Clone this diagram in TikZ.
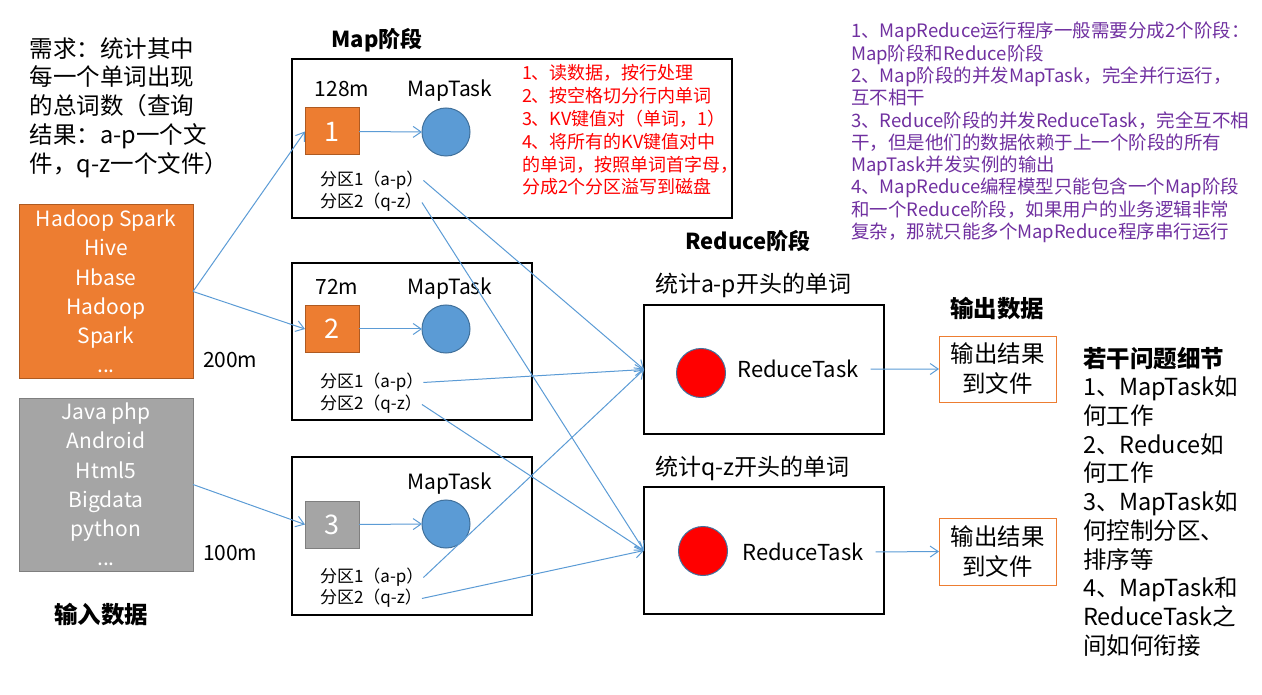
\documentclass[tikz,border=0pt]{standalone}
\usepackage{fontspec}
\setmainfont{Noto Sans CJK SC}
\usetikzlibrary{arrows.meta}
\definecolor{obg}{HTML}{ED7D31}
\definecolor{obd}{HTML}{AE5A21}
\definecolor{gbg}{HTML}{A5A5A5}
\definecolor{gbd}{HTML}{7F7F7F}
\definecolor{cblue}{HTML}{5B9BD5}
\definecolor{cbd}{HTML}{41719C}
\definecolor{lblue}{HTML}{5B9BD5}
\definecolor{purp}{HTML}{7030A0}
\newcommand\setfs[2]{\fontsize{#1}{#2}\selectfont}
\begin{document}
\begin{tikzpicture}[x=1pt,y=-1pt,
  every node/.style={inner sep=0pt,outer sep=0pt},
  frame/.style={draw=black,line width=1.3pt,fill=white},
  inbox/.style={line width=1pt,align=center,text=white,font=\setfs{21}{29.2}},
  sq/.style={line width=1pt,minimum width=54pt,minimum height=47pt,text=white,font=\setfs{27}{30}},
  mcirc/.style={circle,minimum size=48pt,fill=cblue,draw=cbd,line width=1pt},
  rcirc/.style={circle,minimum size=49pt,fill=red,draw=cbd,line width=1pt},
  outbox/.style={draw=obg,line width=1pt,fill=white,minimum width=117pt,align=center,font=\setfs{23.5}{30}},
  lab/.style={anchor=base,font=\setfs{21}{25}},
  head/.style={anchor=base,font=\setfs{22}{26}\bfseries},
  part/.style={anchor=base west,font=\setfs{17}{20}},
  arr/.style={draw=lblue,line width=1pt,-{Straight Barb[length=8pt,width=11pt]}}
]
\useasboundingbox (0,0) rectangle (1262,695);

% requirement text
\node[anchor=west,align=left,font=\setfs{23.5}{28.75}] (req) at (30,107.5)
  {需求：统计其中\\每一个单词出现\\的总词数（查询\\结果：a-p一个文\\件，q-z一个文件）};

% input data
\node[inbox,fill=obg,draw=obd,minimum width=174pt,minimum height=173pt] (in1) at (106,291.5)
  {Hadoop Spark\\Hive\\Hbase\\Hadoop\\Spark\\...};
\node[inbox,fill=gbg,draw=gbd,minimum width=174pt,minimum height=173pt] (in2) at (106,484.5)
  {Java php\\Android\\Html5\\Bigdata\\python\\...};
\node[lab,anchor=base west] (sz200) at (203,367.4) {200m};
\node[lab,anchor=base west] (sz100) at (203,560.4) {100m};
\node[head,font=\setfs{23.5}{26}\bfseries] (inhead) at (101,623) {输入数据};

% map stage
\node[head] (maphead) at (377,47.5) {Map阶段};
\node[frame,minimum width=440pt,minimum height=159pt] (m1) at (512,138.5) {};
\node[frame,minimum width=240pt,minimum height=157pt] (m2) at (412,341.5) {};
\node[frame,minimum width=240pt,minimum height=158pt] (m3) at (412,536) {};

\node[sq,fill=obg,draw=obd] (s1) at (332,131.5) {1};
\node[sq,fill=obg,draw=obd] (s2) at (332,329) {2};
\node[sq,fill=gbg,draw=gbd] (s3) at (332,524.5) {3};
\node[mcirc] (c1) at (446,132) {};
\node[mcirc] (c2) at (446,329) {};
\node[mcirc] (c3) at (446,524) {};
\node[lab] (l128) at (342,96.5) {128m};
\node[lab] (l72) at (337,294.5) {72m};
\node[lab] (mt1) at (450,96.5) {MapTask};
\node[lab] (mt2) at (450,294.5) {MapTask};
\node[lab] (mt3) at (450,489.5) {MapTask};

\node[anchor=west,align=left,text=red,font=\setfs{18}{22.8}] (steps) at (522,130)
  {1、读数据，按行处理\\2、按空格切分行内单词\\3、KV键值对（单词，1）\\4、将所有的KV键值对中\\的单词，按照单词首字母，\\分成2个分区溢写到磁盘};

\node[part] (p11) at (320,185.8) {分区1（a-p）};
\node[part] (p12) at (320,207.8) {分区2（q-z）};
\node[part] (p21) at (320,387.8) {分区1（a-p）};
\node[part] (p22) at (320,409.8) {分区2（q-z）};
\node[part] (p31) at (320,582.8) {分区1（a-p）};
\node[part] (p32) at (320,603.8) {分区2（q-z）};

% reduce stage
\node[head] (redhead) at (748,249.5) {Reduce阶段};
\node[anchor=base west,font=\setfs{23}{26}] (t1) at (655,293) {统计a-p开头的单词};
\node[anchor=base west,font=\setfs{23}{26}] (t2) at (655,475) {统计q-z开头的单词};
\node[frame,minimum width=240pt,minimum height=129pt] (r1) at (764,369.5) {};
\node[frame,minimum width=240pt,minimum height=127pt] (r2) at (764,550.5) {};
\node[rcirc] (rc1) at (701,373) {};
\node[rcirc] (rc2) at (703,551) {};
\node[lab,font=\setfs{22}{26}] (rt1) at (798,377.7) {ReduceTask};
\node[lab,font=\setfs{22}{26}] (rt2) at (803,560.7) {ReduceTask};

% output
\node[head,font=\setfs{23.5}{26}\bfseries] (outhead) at (997,318) {输出数据};
\node[outbox,minimum height=66pt] (o1) at (997.5,369) {输出结果\\到文件};
\node[outbox,minimum height=67pt] (o2) at (997.5,551.5) {输出结果\\到文件};

% notes
\node[anchor=west,align=left,text=purp,font=\setfs{18.5}{22.3}] (notes) at (851,132.5)
  {1、MapReduce运行程序一般需要分成2个阶段：\\Map阶段和Reduce阶段\\2、Map阶段的并发MapTask，完全并行运行，\\互不相干\\3、Reduce阶段的并发ReduceTask，完全互不相\\干，但是他们的数据依赖于上一个阶段的所有\\MapTask并发实例的输出\\4、MapReduce编程模型只能包含一个Map阶段\\和一个Reduce阶段，如果用户的业务逻辑非常\\复杂，那就只能多个MapReduce程序串行运行};

\node[anchor=west,align=left,font=\setfs{23.5}{28.7}] (detail) at (1083,501.5)
  {{\bfseries 若干问题细节}\\1、MapTask如\\何工作\\2、Reduce如\\何工作\\3、MapTask如\\何控制分区、\\排序等\\4、MapTask和\\ReduceTask之\\间如何衔接};

% connectors
\draw[arr] (in1.east) -- (s1.west);
\draw[arr] (in1.east) -- (s2.west);
\draw[arr] (in2.east) -- (s3.west);
\draw[arr] (s1.east) -- (c1.west);
\draw[arr] (s2.east) -- (c2.west);
\draw[arr] (s3.east) -- (c3.west);
\draw[arr] (p11.east) -- (r1.west);
\draw[arr] (p12.east) -- (r2.west);
\draw[arr] (p21.east) -- (r1.west);
\draw[arr] (p22.east) -- (r2.west);
\draw[arr] (p31.east) -- (r1.west);
\draw[arr] (p32.east) -- (r2.west);
\draw[arr,shorten <=12pt] (rt1.east) -- (o1.west);
\draw[arr,shorten <=12pt] (rt2.east) -- (o2.west);
\end{tikzpicture}
\end{document}
